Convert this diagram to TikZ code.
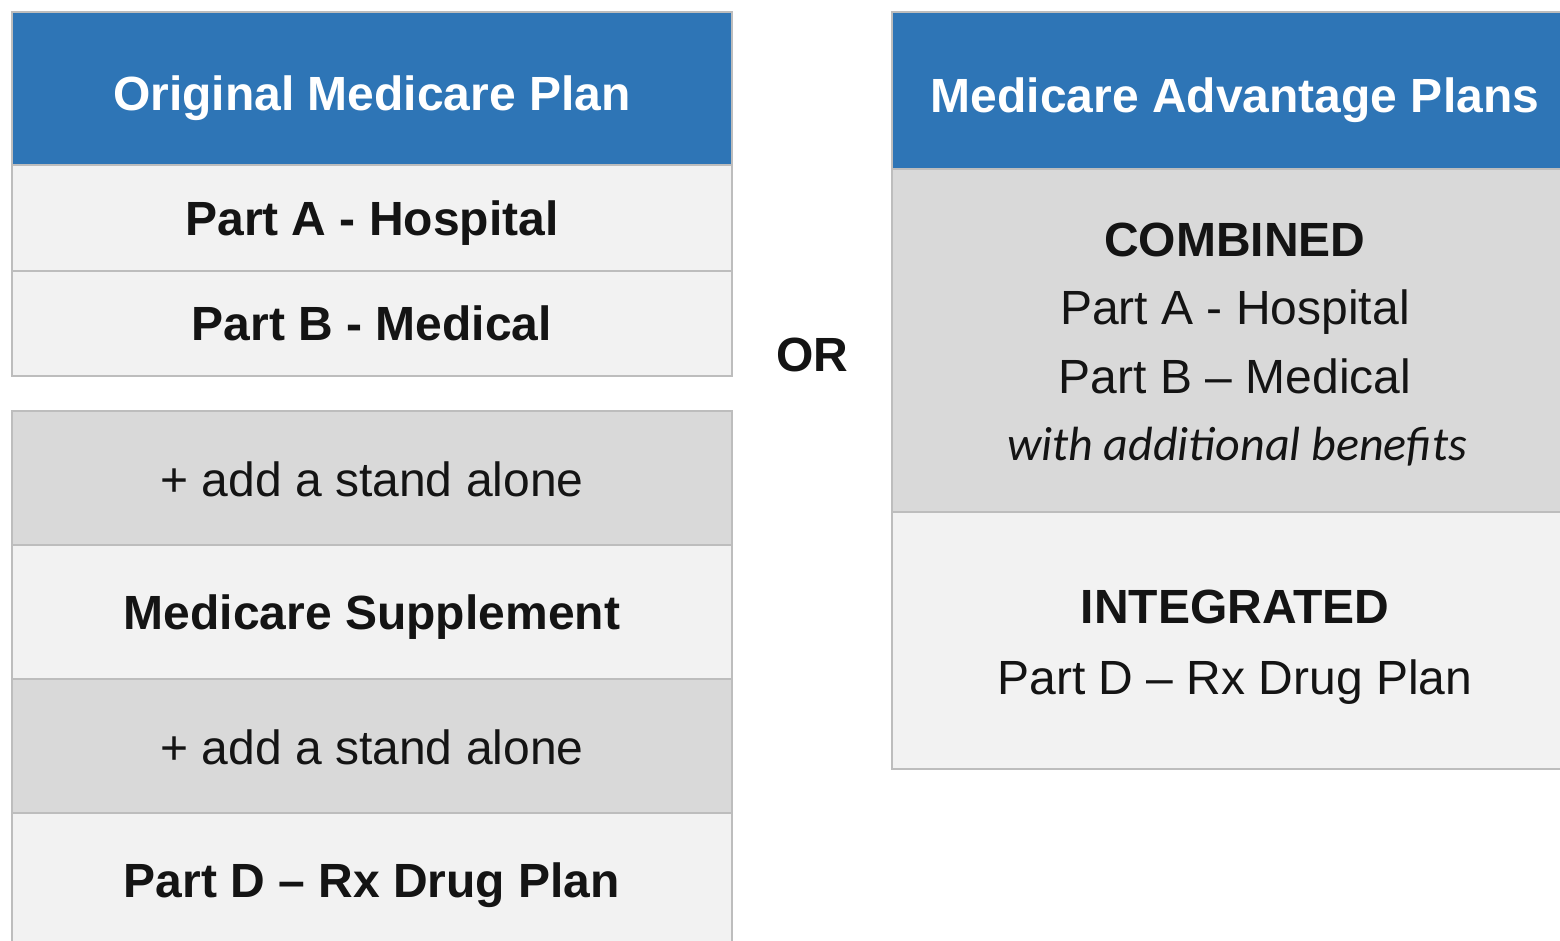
\documentclass[tikz,border=0pt]{standalone}
\usepackage{fontspec}
\setmainfont{Liberation Sans}
\newfontfamily\benefitsfont{Carlito}
\definecolor{hdrblue}{HTML}{2E75B6}
\definecolor{cellpale}{HTML}{F2F2F2}
\definecolor{celldark}{HTML}{D9D9D9}
\definecolor{rule}{HTML}{BDBDBD}
\definecolor{ink}{HTML}{141414}
\begin{document}
\begin{tikzpicture}[x=0.5pt,y=-0.5pt,
  cell/.style={draw=rule, line width=1.1pt, inner sep=0pt, outer sep=0pt},
  hdr/.style={cell, fill=hdrblue},
  pale/.style={cell, fill=cellpale},
  dark/.style={cell, fill=celldark},
  txt/.style={anchor=base, inner sep=0pt, text=ink, font=\fontsize{24}{28}\selectfont},
  btxt/.style={txt, font=\fontsize{24}{28}\selectfont\bfseries},
  htxt/.style={btxt, text=white}]
\useasboundingbox (0,0) rectangle (1560,941);

% left column: Original Medicare
\path[hdr]  (12,12)  rectangle (732,165) node[pos=.5] (h1) {};
\path[pale] (12,165) rectangle (732,271) node[pos=.5] (pa) {};
\path[pale] (12,271) rectangle (732,376) node[pos=.5] (pb) {};
\path[dark] (12,411) rectangle (732,545) node[pos=.5] (s1) {};
\path[pale] (12,545) rectangle (732,679) node[pos=.5] (ms) {};
\path[dark] (12,679) rectangle (732,813) node[pos=.5] (s2) {};
\path[pale] (12,813) rectangle (732,960) node[pos=.5] (pd) {};

\node[htxt] (t1) at (372,111) {Original Medicare Plan};
\node[btxt] (t2) at (372,236) {Part A - Hospital};
\node[btxt] (t3) at (372,341) {Part B - Medical};
\node[txt]  (t4) at (372,496) {+ add a stand alone};
\node[btxt] (t5) at (372,629) {Medicare Supplement};
\node[txt]  (t6) at (372,764) {+ add a stand alone};
\node[btxt] (t7) at (372,897) {Part D – Rx Drug Plan};

% separator
\node[btxt] (or) at (812,372) {OR};

% right column: Medicare Advantage
\path[hdr]  (892,12)  rectangle (1578,169) node[pos=.5] (h2) {};
\path[dark] (892,169) rectangle (1578,512) node[pos=.5] (cb) {};
\path[pale] (892,512) rectangle (1578,769) node[pos=.5] (ig) {};

\node[htxt] (r1) at (1235,113) {Medicare Advantage Plans};
\node[btxt] (r2) at (1235,257) {COMBINED};
\node[txt]  (r3) at (1235,325) {Part A - Hospital};
\node[txt]  (r4) at (1235,394) {Part B – Medical};
\node[txt, font=\fontsize{24}{28}\benefitsfont\itshape] (r5) at (1237,460) {with additional benefits};
\node[btxt] (r6) at (1235,624) {INTEGRATED};
\node[txt]  (r7) at (1235,694) {Part D – Rx Drug Plan};
\end{tikzpicture}
\end{document}
